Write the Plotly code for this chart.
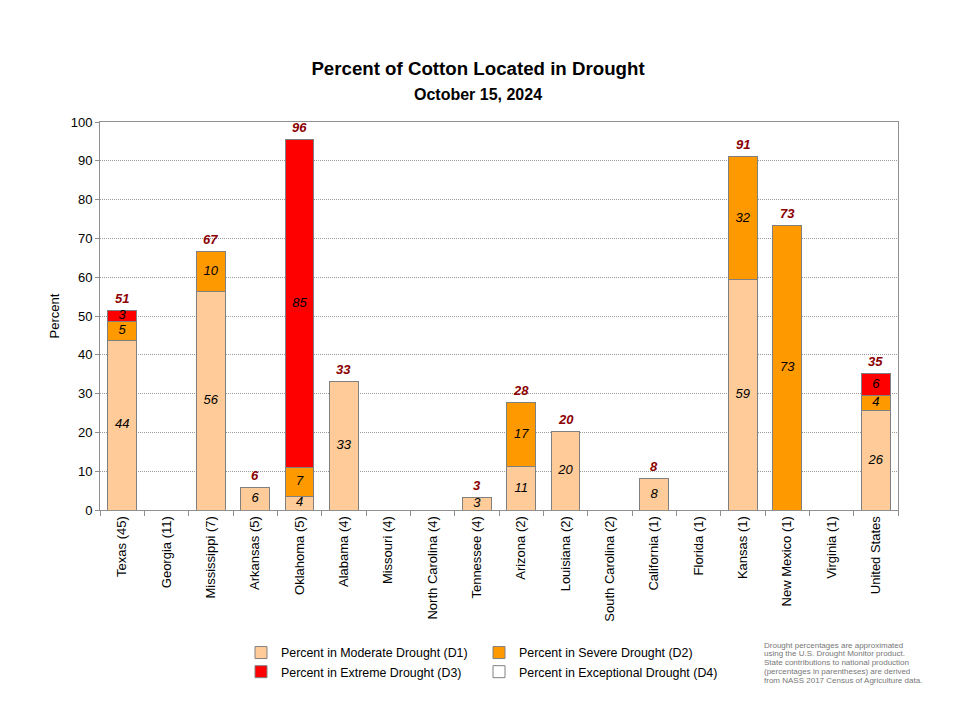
import plotly.graph_objects as go

states = ["Texas (45)", "Georgia (11)", "Mississippi (7)", "Arkansas (5)", "Oklahoma (5)",
          "Alabama (4)", "Missouri (4)", "North Carolina (4)", "Tennessee (4)", "Arizona (2)",
          "Louisiana (2)", "South Carolina (2)", "California (1)", "Florida (1)", "Kansas (1)",
          "New Mexico (1)", "Virginia (1)", "United States"]
d1 = [43.8, 0, 56.2, 5.8, 3.6, 33.2, 0, 0, 3.1, 11.1, 20.3, 0, 8.0, 0, 59.3, 0, 0, 25.6]
d2 = [4.8, 0, 10.4, 0, 7.3, 0, 0, 0, 0, 16.7, 0, 0, 0, 0, 31.7, 73.2, 0, 4.0]
d3 = [2.7, 0, 0, 0, 84.7, 0, 0, 0, 0, 0, 0, 0, 0, 0, 0, 0, 0, 5.6]
d4 = [0] * len(states)
note_lines = ["Drought percentages are approximated",
              "using the U.S. Drought Monitor product.",
              "State contributions to national production",
              "(percentages in parentheses) are derived",
              "from NASS 2017 Census of Agriculture data."]

FONT = "Liberation Sans"
W, H = 950, 709
ML, MR, MT, MB = 92, 60, 114, 207

fig = go.Figure()
series = [("Percent in Moderate Drought (D1)", d1, "#FFCC99", "legend"),
          ("Percent in Severe Drought (D2)", d2, "#FF9900", "legend2"),
          ("Percent in Extreme Drought (D3)", d3, "#FF0000", "legend"),
          ("Percent in Exceptional Drought (D4)", d4, "#FFFFFF", "legend2")]
for name, vals, col, lg in series:
    fig.add_trace(go.Bar(x=states, y=vals, name=name,
                         marker=dict(color=col, line=dict(color="#808080", width=1)),
                         width=0.65, legend=lg, hoverinfo="skip"))

# segment labels
bases = [0] * len(states)
lx, ly, lt = [], [], []
for vals in (d1, d2, d3):
    for i, v in enumerate(vals):
        if v > 0:
            lx.append(states[i]); ly.append(bases[i] + v / 2); lt.append(str(int(round(v))))
        bases[i] += v
fig.add_trace(go.Scatter(x=lx, y=ly, text=lt, mode="text", showlegend=False,
                         textfont=dict(family=FONT, size=13, color="black", style="italic"),
                         hoverinfo="skip"))
# total labels
for s, t in zip(states, bases):
    if t > 0:
        fig.add_annotation(x=s, y=t, yshift=12, text=str(int(round(t))), showarrow=False,
                           font=dict(family=FONT, size=13, color="#8B0000", weight="bold", style="italic"))

fig.update_layout(
    width=W, height=H, barmode="stack", plot_bgcolor="white", paper_bgcolor="white",
    margin=dict(l=ML, r=MR, t=MT, b=MB),
    font=dict(family=FONT, size=12, color="black"),
    title=dict(text="<b>Percent of Cotton Located in Drought</b><br>"
                    "<span style='font-size:16px'><b>October 15, 2024</b></span>",
               x=470 / W, xanchor="center", y=0.905, yanchor="top", font=dict(size=18.7, family=FONT)),
    legend=dict(x=(241 - 100) / 798, y=(510 - 638) / 388, xanchor="left", yanchor="top",
                font=dict(family=FONT, size=12.4), traceorder="normal", bgcolor="rgba(0,0,0,0)"),
    legend2=dict(x=(479 - 100) / 798, y=(510 - 638) / 388, xanchor="left", yanchor="top",
                 font=dict(family=FONT, size=12.4), traceorder="normal", bgcolor="rgba(0,0,0,0)"),
)
fig.update_yaxes(range=[0, 100], dtick=10, showgrid=True, gridcolor="#9A9A9A", griddash="1px,1px", gridwidth=1,
                 showline=True, linecolor="#909090", linewidth=1, mirror=True, ticks="outside", ticklen=4,
                 tickcolor="#909090", title=dict(text="Percent", font=dict(size=13), standoff=8),
                 tickfont=dict(size=13), zeroline=False)
fig.update_xaxes(range=[-0.5, len(states) - 0.5], showline=True, linecolor="#909090", linewidth=1, mirror=True,
                 ticks="outside", ticklen=5, tickcolor="#909090", tickson="boundaries", tickangle=-90,
                 tickfont=dict(size=13))

for k, line in enumerate(note_lines):
    fig.add_annotation(xref="paper", yref="paper", x=(762 - 100) / 798,
                       y=(510 - (645 + 8.8 * k)) / 388, xanchor="left", yanchor="middle",
                       align="left", showarrow=False, text=line,
                       font=dict(family=FONT, size=8, color="#777777"))

fig.write_html("out.html")
